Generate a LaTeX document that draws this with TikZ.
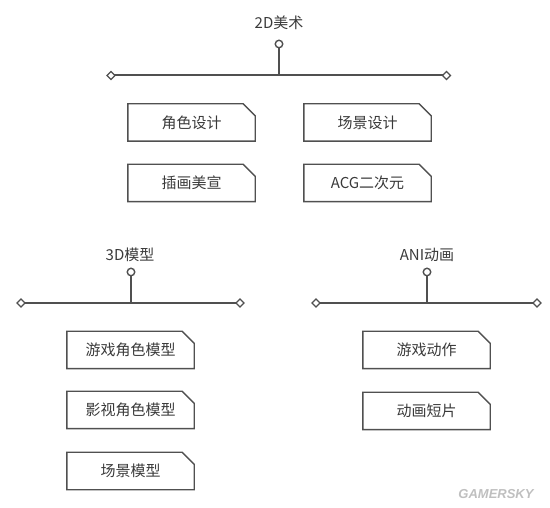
\documentclass[tikz,border=0pt]{standalone}
\usepackage{fontspec}
\newfontfamily\cjk{Noto Sans CJK SC}
\usetikzlibrary{shapes.geometric}
\definecolor{ln}{HTML}{505050}
\definecolor{tx}{HTML}{3a3a3a}
\tikzset{
  every node/.style={font=\cjk\fontsize{15}{18}\selectfont, text=tx},
  item/.style={minimum width=127pt, minimum height=37pt, inner sep=0pt},
  ttl/.style={inner sep=0pt},
  knob/.style={circle, draw=ln, line width=1.4pt, fill=white, minimum size=7.5pt, inner sep=0pt},
  tip/.style={diamond, draw=ln, line width=1.3pt, fill=white, minimum size=8.5pt, inner sep=0pt},
  bar/.style={draw=ln, line width=2pt},
  boxline/.style={draw=ln, line width=1.4pt, line join=miter},
}
\newcommand{\cutbox}[1]{\draw[boxline] (#1.south west) -- (#1.north west) -- ([xshift=-12pt]#1.north east) -- ([yshift=-12pt]#1.north east) -- (#1.south east) -- cycle;}
\begin{document}
\begin{tikzpicture}[x=1pt,y=-1pt]
\useasboundingbox (0,0) rectangle (550,508);
% 2D group
\node[ttl] (t1) at (279,23) {2D美术};
\coordinate (j1) at (279,75.5);
\draw[bar] (111,75.5) coordinate (l1) -- (446.5,75.5) coordinate (r1);
\node[knob] (k1) at (279,44) {};
\draw[bar] (k1) -- (j1);
\node[tip] (dl1) at (l1) {};
\node[tip] (dr1) at (r1) {};
\node[item] (a1) at (191.5,122.5) {角色设计};
\node[item] (a2) at (367.5,122.5) {场景设计};
\node[item] (a3) at (191.5,183) {插画美宣};
\node[item] (a4) at (367.5,183) {ACG二次元};
\cutbox{a1}\cutbox{a2}\cutbox{a3}\cutbox{a4}
% 3D group
\node[ttl] (t2) at (130,255) {3D模型};
\coordinate (j2) at (131,303);
\draw[bar] (21,303) coordinate (l2) -- (240,303) coordinate (r2);
\node[knob] (k2) at (131,272) {};
\draw[bar] (k2) -- (j2);
\node[tip] (dl2) at (l2) {};
\node[tip] (dr2) at (r2) {};
\node[item] (b1) at (130.5,350) {游戏角色模型};
\node[item] (b2) at (130.5,410) {影视角色模型};
\node[item] (b3) at (130.5,471) {场景模型};
\cutbox{b1}\cutbox{b2}\cutbox{b3}
% ANI group
\node[ttl] (t3) at (427,255) {ANI动画};
\coordinate (j3) at (427,303);
\draw[bar] (316,303) coordinate (l3) -- (537,303) coordinate (r3);
\node[knob] (k3) at (427,272) {};
\draw[bar] (k3) -- (j3);
\node[tip] (dl3) at (l3) {};
\node[tip] (dr3) at (r3) {};
\node[item] (c1) at (426.5,350) {游戏动作};
\node[item] (c2) at (426.5,411) {动画短片};
\cutbox{c1}\cutbox{c2}
% watermark
\node[font=\fontspec{Liberation Sans}\bfseries\itshape\fontsize{13}{15}\selectfont, text=black!25] (wm) at (496,494) {GAMERSKY};
\end{tikzpicture}
\end{document}
